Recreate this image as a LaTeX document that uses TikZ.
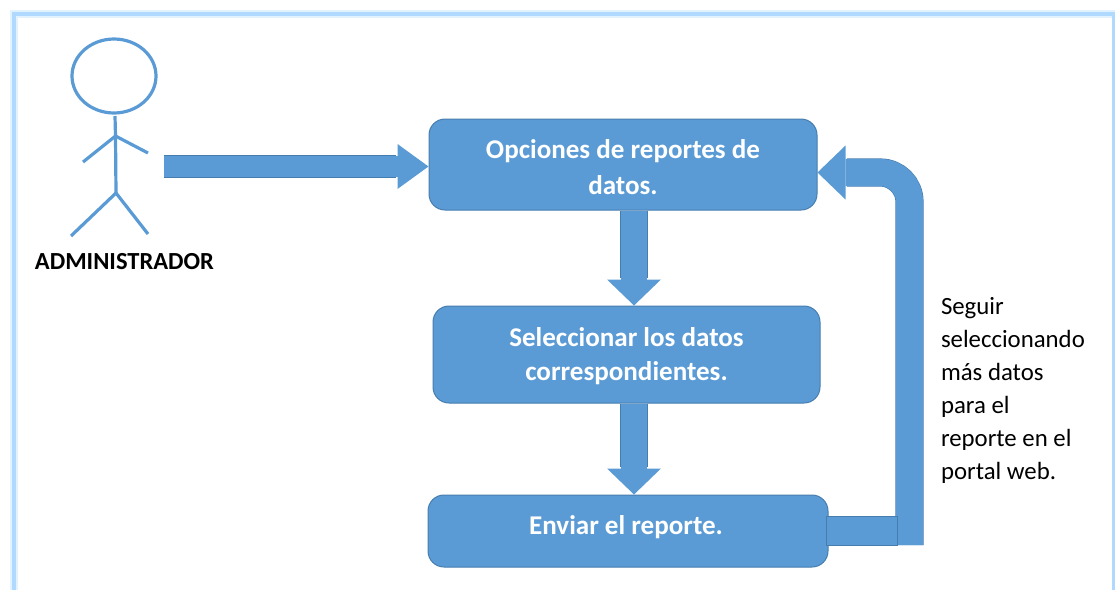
\documentclass[tikz,border=0pt]{standalone}
\usepackage{fontspec}
\setmainfont{Carlito}
\usetikzlibrary{arrows.meta}
\definecolor{azul}{RGB}{91,155,213}
\definecolor{borde}{RGB}{70,125,175}
\definecolor{marco}{RGB}{176,217,255}
\tikzset{every picture/.style={line width=0.75pt}}
\tikzset{
  caja/.style={draw=borde,fill=azul,rounded corners=12pt,inner sep=0pt,align=center,text=white},
  cajatexto/.style={font=\fontsize{20.3}{#1}\selectfont\bfseries},
  flecha/.style n args={3}{draw=azul,line width=#1,
    -{Triangle[length=#2,width=#3,line width=0pt,fill=azul]},
    preaction={draw=borde,-,line width=#1+0.9pt,shorten >=#2+1pt}},
  tira/.style={draw=borde,fill=azul,line width=0.7pt},
  figura/.style={draw=azul,line width=2.4pt},
}

\begin{document}
\begin{tikzpicture}[x=0.75pt,y=0.75pt,yscale=-1,xscale=1]
	\useasboundingbox (0,0) rectangle (1115,590);

	% Frame
	\draw [draw=marco!35,line width=6pt] (14,590) -- (14,14) -- (1115,14) ;
	\draw [draw=marco,line width=3.2pt] (14,590) -- (14,14) -- (1114,14) -- (1114,590) ;

	% Stick figure
	\draw [figura] (114,76) ellipse (42 and 37) ;
	\draw [figura] (115,116) -- (115.5,136) -- (116,193) ;
	\draw [figura] (83,162) -- (115.5,136) -- (148,153) ;
	\draw [figura] (71,236) -- (116,193) -- (148,234) ;

	% Text Node
	\node (admin) at (124.5,261.5) {\fontsize{18.4}{21}\selectfont\bfseries ADMINISTRADOR};

	% Boxes
	\node (opciones) [caja,cajatexto=27pt,minimum width=291pt,minimum height=68.25pt] at (623,164.5) {\rule{0pt}{18.5pt}Opciones de reportes de\\datos.};
	\node (seleccionar) [caja,cajatexto=25.5pt,minimum width=290.25pt,minimum height=72.75pt] at (626.5,354.5) {\rule{0pt}{17pt}Seleccionar los datos\\correspondientes.};
	\node (enviar) [caja,cajatexto=21pt,minimum width=300pt,minimum height=54pt] at (628,531) {\rule[-8.5pt]{0pt}{8.5pt}Enviar el reporte.\hspace{3pt}};

	% Coordinates for the free ends
	\coordinate (actor) at (164,166.5);
	\coordinate (flujo) at (634,0);
	\coordinate (codo) at (909.5,545);

	% Arrows
	\draw [flecha={15.75pt}{23.25pt}{33.75pt}] (actor) -- (actor -| opciones.west) ;
	\draw [flecha={19.5pt}{19.5pt}{40.5pt}] (flujo |- opciones.south) -- (flujo |- seleccionar.north) ;
	\draw [flecha={19.5pt}{19.5pt}{40.5pt}] (flujo |- seleccionar.south) -- (flujo |- enviar.north) ;
	\draw [flecha={20.25pt}{21pt}{40.5pt},rounded corners=22pt,line join=miter] (codo) -- (codo |- 0,172.5) -- (opciones.east |- 0,172.5) ;
	\draw [tira] ([xshift=-1.5pt,yshift=-11pt]enviar.east) rectangle (897,545) ;

	% Text Node
	\node (seguir) [anchor=north west,inner sep=0pt,align=left,font=\fontsize{18.6}{24.75}\selectfont] at (940.5,297) {Seguir\\seleccionando\\más datos\\para el\\reporte en el\\portal web.};

\end{tikzpicture}
\end{document}
